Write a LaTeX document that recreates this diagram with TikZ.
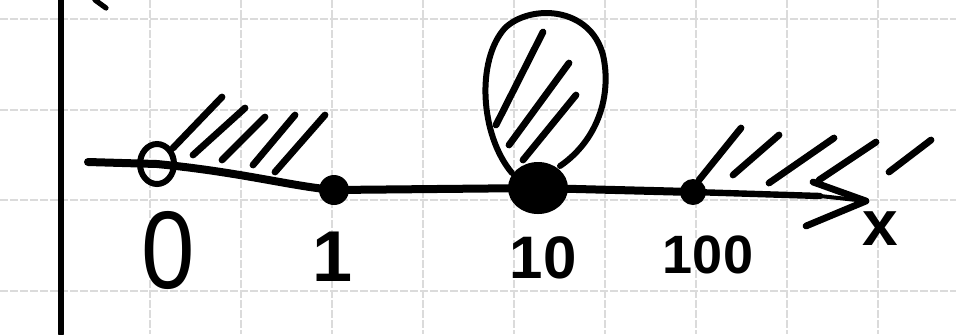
\documentclass[tikz,border=0pt]{standalone}
\usepackage{fontspec}
\setmainfont{Liberation Sans}
\usetikzlibrary{shapes.geometric}
\begin{document}
\begin{tikzpicture}[x=0.5pt,y=-0.5pt,
  gridline/.style={draw=gray!28, line width=0.7pt, dash pattern=on 4pt off 1pt},
  ink/.style={draw=black, line cap=round, line join=round},
  hatch/.style={ink, line width=3.4pt},
  dotnode/.style={circle, fill=black, inner sep=0pt},
  lbl/.style={inner sep=0pt}]
\useasboundingbox (0,0) rectangle (956,334);
\fill[white] (0,0) rectangle (956,334);
% grid
\foreach \gx in {150,241,332,423,514,605,696,787,878}
  \draw[gridline] (\gx,0) -- (\gx,334);
\foreach \gy in {19,110,200,291}
  \draw[gridline] (0,\gy) -- (956,\gy);
% vertical axis
\coordinate (ybot) at (61,334);
\coordinate (ytop) at (61,0);
\draw[ink, line width=2.6pt] (ybot) -- (ytop);
\coordinate (yh1) at (95,0);
\coordinate (yh2) at (106,8);
\draw[ink, line width=2.6pt] (yh1) -- (yh2);
% points
\node[ellipse, draw, line width=3pt, minimum width=17pt, minimum height=20pt, inner sep=0pt] (p0) at (157,164) {};
\node[dotnode, minimum size=15pt] (p1) at (334,190) {};
\node[ellipse, fill=black, minimum width=30pt, minimum height=26pt, inner sep=0pt] (p10) at (538,188) {};
\node[dotnode, minimum size=13pt] (p100) at (693,192) {};
% main line
\coordinate (start) at (88,162);
\coordinate (tip) at (866,201);
\coordinate (ah1) at (813,182);
\coordinate (ah2) at (806,226);
\draw[ink, line width=4pt] (start) -- (p0.center) .. controls (240,172) and (290,186) .. (p1.center) -- (p10.center) -- (p100.center);
\draw[ink, line width=3.2pt] (p100.center) -- (820,196);
\draw[ink, line width=2pt] (820,196) -- (tip);
\draw[ink, line width=3.4pt] (ah1) -- (tip) -- (ah2);
% loop at 10
\draw[ink, line width=3pt] (512,173) .. controls (480,135) and (476,60) .. (505,28) .. controls (530,4) and (590,6) .. (603,55) .. controls (612,95) and (598,140) .. (560,166);
% hatching in loop
\draw[hatch] (496,125) -- (543,32);
\draw[hatch] (509,145) -- (569,63);
\draw[hatch] (523,160) -- (576,95);
% hatching near 0
\draw[hatch] (173,148) -- (222,97);
\draw[hatch] (193,155) -- (245,108);
\draw[hatch] (222,160) -- (265,117);
\draw[hatch] (253,165) -- (295,115);
\draw[hatch] (275,172) -- (325,115);
% hatching near 100
\draw[hatch] (699,180) -- (741,128);
\draw[hatch] (733,175) -- (779,135);
\draw[hatch] (769,183) -- (834,138);
\draw[hatch] (819,180) -- (876,142);
\draw[hatch] (889,172) -- (931,140);
% labels
\node[lbl, font=\fontsize{48}{48}\selectfont, yscale=1.15] (l0) at (168,250) {0};
\node[lbl, font=\bfseries\fontsize{36}{36}\selectfont] (l1) at (333,257) {1};
\node[lbl, font=\bfseries\fontsize{30}{30}\selectfont] (l10) at (543,258) {10};
\node[lbl, font=\bfseries\fontsize{27}{27}\selectfont] (l100) at (708,255) {100};
\node[lbl, font=\bfseries\fontsize{32}{32}\selectfont] (lx) at (880,229) {x};
\end{tikzpicture}
\end{document}
